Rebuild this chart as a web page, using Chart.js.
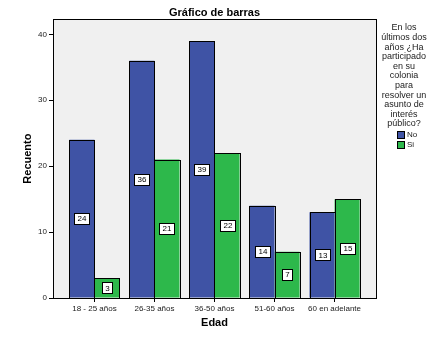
<!DOCTYPE html>
<html>
<head>
<meta charset="utf-8">
<script src="https://cdn.jsdelivr.net/npm/chart.js@4/dist/chart.umd.min.js"></script>
<style>
  html, body { margin: 0; padding: 0; background: #fff; }
  #wrap { width: 440px; height: 340px; }
</style>
</head>
<body>
<div id="wrap"><canvas id="barChart" width="440" height="340"></canvas></div>
<script>
// datos
const categorias = ['18 - 25 años', '26-35 años', '36-50 años', '51-60 años', '60 en adelante'];
const valoresNo = [24, 36, 39, 14, 13];
const valoresSi = [3, 21, 22, 7, 15];
const yTicks = [0, 10, 20, 30, 40];
const tituloLeyenda = ['En los', 'últimos dos', 'años ¿Ha', 'participado', 'en su', 'colonia', 'para', 'resolver un', 'asunto de', 'interés', 'público?'];

const fuente = '"Liberation Sans", Arial, sans-serif';
const azul = '#3f53a5';
const verde = '#2db84b';

// fondo gris y marco del area de grafico
const marcoPlugin = {
    id: 'marco',
    beforeDraw(chart) {
        const { ctx, chartArea: a } = chart;
        ctx.save();
        ctx.fillStyle = '#f0f0f0';
        ctx.fillRect(a.left, a.top, a.right - a.left, a.bottom - a.top);
        ctx.restore();
    },
    afterDraw(chart) {
        const { ctx, chartArea: a } = chart;
        ctx.save();
        ctx.strokeStyle = '#000';
        ctx.lineWidth = 1;
        ctx.strokeRect(Math.round(a.left) + 0.5, Math.round(a.top) + 0.5, Math.round(a.right - a.left), Math.round(a.bottom - a.top));
        ctx.restore();
    }
};

// contorno negro nitido de las barras + etiquetas con recuadro blanco
const etiquetasPlugin = {
    id: 'etiquetas',
    afterDatasetsDraw(chart) {
        const ctx = chart.ctx;
        ctx.save();
        ctx.strokeStyle = '#000';
        ctx.lineWidth = 1;
        chart.data.datasets.forEach((ds, i) => {
            chart.getDatasetMeta(i).data.forEach(bar => {
                const l = Math.round(bar.x - bar.width / 2) + 0.5;
                const r = Math.round(bar.x + bar.width / 2) + 0.5;
                const t = Math.round(bar.y) + 0.5;
                const b = Math.round(bar.base) + 0.5;
                ctx.strokeRect(l, t, r - l, b - t);
            });
        });
        ctx.font = '8px ' + fuente;
        ctx.textAlign = 'center';
        ctx.textBaseline = 'middle';
        chart.data.datasets.forEach((ds, i) => {
            chart.getDatasetMeta(i).data.forEach((bar, j) => {
                const txt = String(ds.data[j].y);
                const cy = (bar.y + bar.base) / 2;
                const w = Math.round(ctx.measureText(txt).width + 6);
                const h = 11;
                const x0 = Math.round(bar.x - w / 2) + 0.5;
                const y0 = Math.round(cy - h / 2) + 0.5;
                ctx.fillStyle = '#fff';
                ctx.fillRect(x0, y0, w, h);
                ctx.strokeRect(x0, y0, w, h);
                ctx.fillStyle = '#000';
                ctx.fillText(txt, x0 + w / 2, cy + 0.5);
            });
        });
        ctx.restore();
    }
};

// leyenda a la derecha con titulo de varias lineas
const leyendaPlugin = {
    id: 'leyenda',
    afterDraw(chart) {
        const ctx = chart.ctx;
        const cx = 404;
        ctx.save();
        ctx.font = '9px ' + fuente;
        ctx.fillStyle = '#222';
        ctx.textAlign = 'center';
        ctx.textBaseline = 'middle';
        tituloLeyenda.forEach((linea, i) => {
            ctx.fillText(linea, cx, 28 + i * 9.6);
        });
        ctx.font = '8px ' + fuente;
        ctx.textAlign = 'left';
        chart.data.datasets.forEach((ds, i) => {
            const y = 131 + i * 10;
            ctx.fillStyle = ds.backgroundColor;
            ctx.fillRect(397.5, y + 0.5, 7, 7);
            ctx.strokeStyle = '#000';
            ctx.strokeRect(397.5, y + 0.5, 7, 7);
            ctx.fillStyle = '#222';
            ctx.fillText(ds.label, 407, y + 4);
        });
        ctx.restore();
    }
};

const ctx = document.getElementById('barChart').getContext('2d');
const chart = new Chart(ctx, {
    type: 'bar',
    data: {
        datasets: [{
            label: 'No',
            data: valoresNo.map((v, i) => ({ x: i, y: v })),
            backgroundColor: azul,
            borderWidth: 0,
        }, {
            label: 'Si',
            data: valoresSi.map((v, i) => ({ x: i, y: v })),
            backgroundColor: verde,
            borderWidth: 0,
        }]
    },
    options: {
        responsive: false,
        animation: false,
        layout: { padding: { top: 0, right: 64, left: 0, bottom: 0 } },
        categoryPercentage: 0.835,
        barPercentage: 1.0,
        scales: {
            x: {
                type: 'linear',
                offset: false,
                min: -0.69,
                max: 4.69,
                grid: { display: true, drawOnChartArea: false, offset: false, color: '#000', tickLength: 4 },
                border: { color: '#000' },
                afterBuildTicks: s => { s.ticks = categorias.map((c, i) => ({ value: i })); },
                ticks: {
                    color: '#222', font: { family: fuente, size: 8 }, padding: 2, maxRotation: 0, autoSkip: false,
                    callback: v => categorias[v]
                },
                title: { display: true, text: 'Edad', color: '#000', font: { family: fuente, size: 11, weight: 'bold' }, padding: { top: 0, bottom: 10 } },
                afterFit: s => { s.height = 42; }
            },
            y: {
                min: 0,
                max: 42.3,
                grid: { display: true, drawOnChartArea: false, color: '#000', tickLength: 4 },
                border: { color: '#000' },
                ticks: { stepSize: 10, color: '#222', font: { family: fuente, size: 8 }, padding: 2 },
                afterBuildTicks: s => { s.ticks = yTicks.map(v => ({ value: v })); },
                title: { display: true, text: 'Recuento', color: '#000', font: { family: fuente, size: 11, weight: 'bold' }, padding: { top: 21, bottom: 0 } },
                afterFit: s => { s.width = 53; }
            }
        },
        plugins: {
            legend: { display: false },
            tooltip: { enabled: false },
            title: {
                display: true,
                text: 'Gráfico de barras',
                fullSize: false,
                color: '#000',
                font: { family: fuente, size: 11, weight: 'bold' },
                padding: { top: 6, bottom: 0 }
            }
        }
    },
    plugins: [marcoPlugin, etiquetasPlugin, leyendaPlugin]
});
</script>
</body>
</html>
